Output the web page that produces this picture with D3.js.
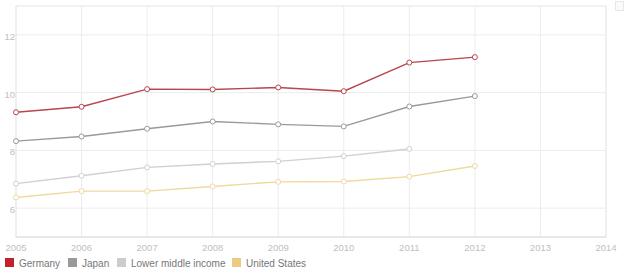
<!DOCTYPE html>
<html>
<head>
<meta charset="utf-8">
<script src="https://cdn.jsdelivr.net/npm/d3@7"></script>
<style>
  body { margin: 0; background: #fff; }
  text { font-family: "Liberation Sans", Arial, sans-serif; }
</style>
</head>
<body>
<script>
const years = [2005, 2006, 2007, 2008, 2009, 2010, 2011, 2012, 2013, 2014];
const yTicks = [6, 8, 10, 12];

const germany = [9.32, 9.51, 10.12, 10.11, 10.18, 10.05, 11.04, 11.23];
const japan = [8.32, 8.48, 8.75, 9.0, 8.9, 8.83, 9.52, 9.88];
const lowerMiddle = [6.85, 7.12, 7.41, 7.53, 7.62, 7.8, 8.05];
const unitedStates = [6.37, 6.59, 6.59, 6.75, 6.91, 6.92, 7.09, 7.46];

const seriesNames = ["Germany", "Japan", "Lower middle income", "United States"];
const seriesValues = [germany, japan, lowerMiddle, unitedStates];
const lineColors = ["#b5474d", "#9a9a9a", "#d0d0d0", "#f0d99c"];
const swatchColors = ["#c0212b", "#999999", "#cccccc", "#ecca80"];

const width = 625;
const height = 277;
const margin = { top: 6, right: 19, bottom: 40, left: 16 };

const svg = d3.select("body").append("svg")
    .attr("width", width)
    .attr("height", height);

const x = d3.scaleLinear()
    .domain([2005, 2014])
    .range([margin.left, width - margin.right]);

const y = d3.scaleLinear()
    .domain([5, 13])
    .range([height - margin.bottom, margin.top]);

// plot frame
svg.append("rect")
    .attr("x", x(2005))
    .attr("y", y(13))
    .attr("width", x(2014) - x(2005))
    .attr("height", y(5) - y(13))
    .attr("fill", "none")
    .attr("stroke", "#e6e6e6");

// grid
svg.append("g")
    .selectAll("line.v")
    .data(years)
    .enter().append("line")
    .attr("x1", d => x(d)).attr("x2", d => x(d))
    .attr("y1", y(13)).attr("y2", y(5))
    .attr("stroke", "#ececec");

svg.append("g")
    .selectAll("line.h")
    .data(yTicks)
    .enter().append("line")
    .attr("x1", x(2005)).attr("x2", x(2014))
    .attr("y1", d => y(d)).attr("y2", d => y(d))
    .attr("stroke", "#ececec");

// bottom axis line
svg.append("line")
    .attr("x1", x(2005)).attr("x2", x(2014))
    .attr("y1", y(5)).attr("y2", y(5))
    .attr("stroke", "#dcdcdc");

// tick labels
svg.append("g")
    .selectAll("text")
    .data(yTicks)
    .enter().append("text")
    .attr("x", x(2005) - 1)
    .attr("y", d => y(d) + 5)
    .attr("text-anchor", "end")
    .attr("font-size", 9.5)
    .attr("fill", "#c0c0c0")
    .text(d => d);

svg.append("g")
    .selectAll("text")
    .data(years)
    .enter().append("text")
    .attr("x", d => x(d))
    .attr("y", y(5) + 14)
    .attr("text-anchor", "middle")
    .attr("font-size", 9.5)
    .attr("fill", "#c0c0c0")
    .text(d => d);

// lines
const line = d3.line()
    .x((d, i) => x(years[i]))
    .y(d => y(d));

seriesValues.forEach((vals, s) => {
    svg.append("path")
        .datum(vals)
        .attr("d", line)
        .attr("fill", "none")
        .attr("stroke", lineColors[s])
        .attr("stroke-width", 1.4);

    svg.append("g")
        .selectAll("circle")
        .data(vals)
        .enter().append("circle")
        .attr("cx", (d, i) => x(years[i]))
        .attr("cy", d => y(d))
        .attr("r", 2.5)
        .attr("fill", "#fff")
        .attr("stroke", lineColors[s])
        .attr("stroke-width", 1);
});

// legend
const legendX = [5, 68, 117, 232];
const legend = svg.append("g")
    .selectAll("g")
    .data(seriesNames)
    .enter().append("g")
    .attr("transform", (d, i) => `translate(${legendX[i]}, 258)`);

legend.append("rect")
    .attr("width", 9)
    .attr("height", 9)
    .attr("fill", (d, i) => swatchColors[i]);

legend.append("text")
    .attr("x", 14)
    .attr("y", 8.5)
    .attr("font-size", 10)
    .attr("fill", "#777")
    .text(d => d);

// small corner icon
svg.append("rect")
    .attr("x", 615.5).attr("y", 1.5)
    .attr("width", 8).attr("height", 9)
    .attr("fill", "#fafafa")
    .attr("stroke", "#e8e8e8");
</script>
</body>
</html>
